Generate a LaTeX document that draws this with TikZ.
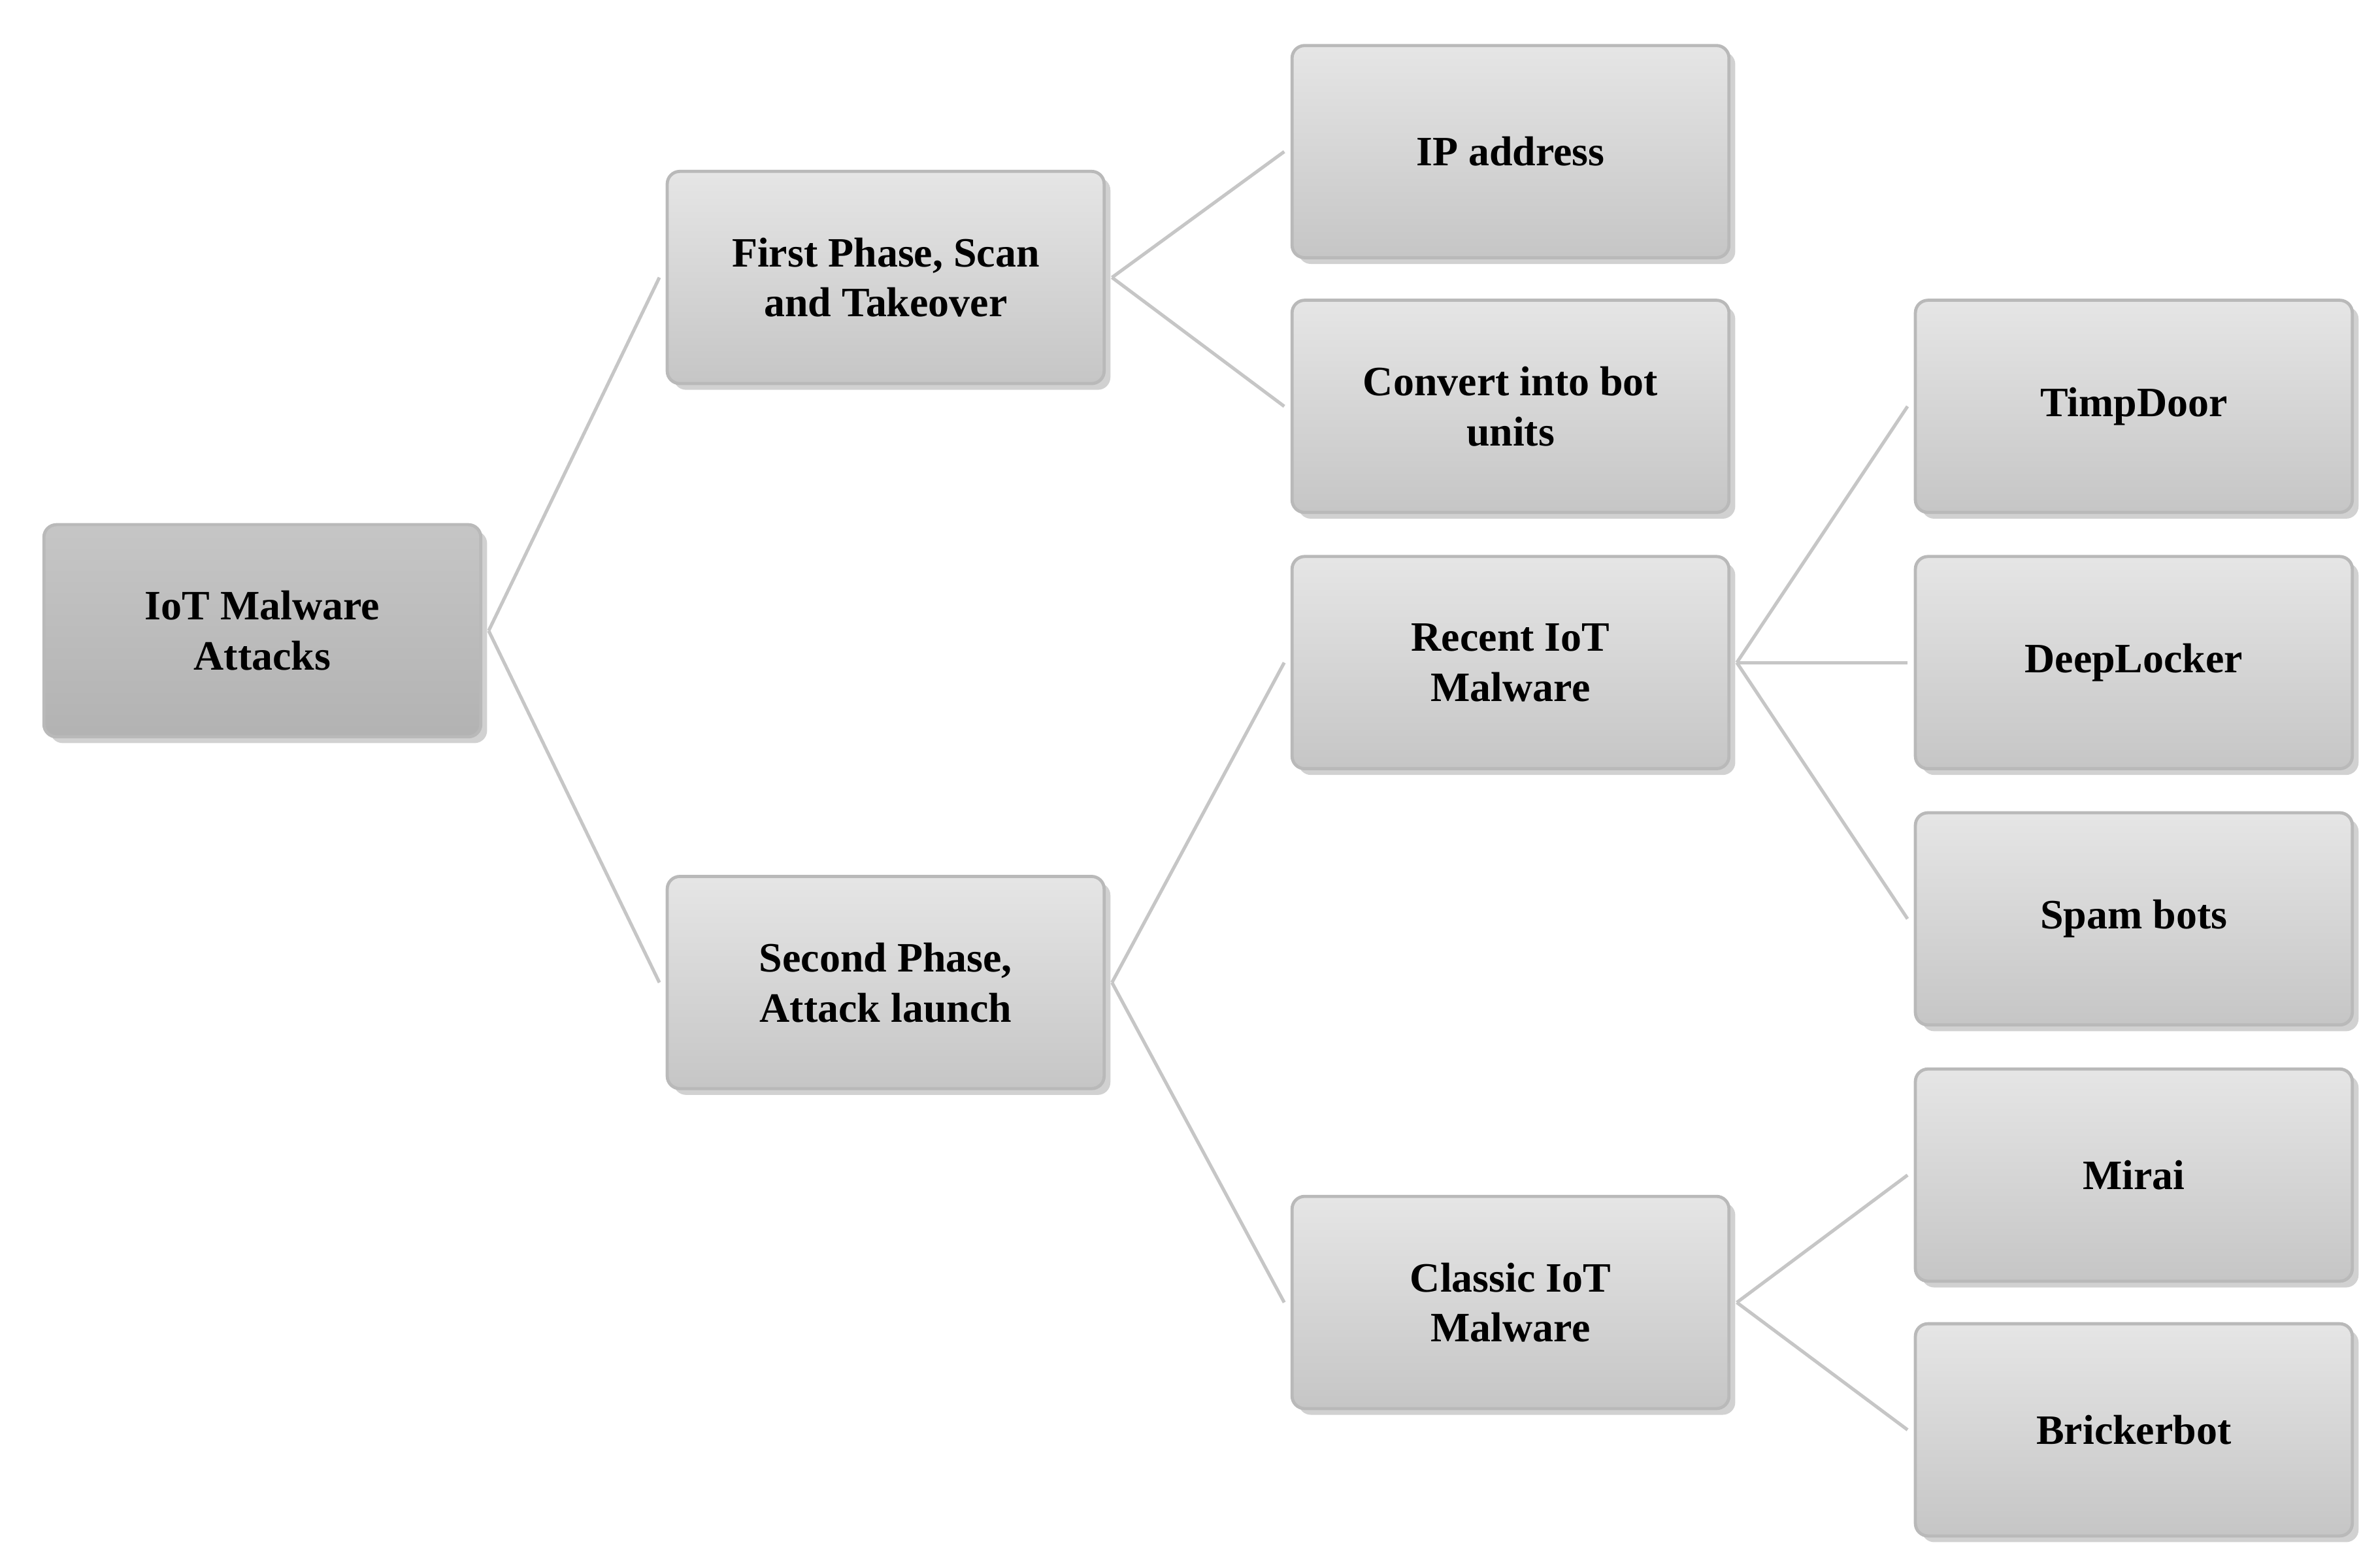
\documentclass[tikz,border=0pt]{standalone}
\usepackage{fontspec}
\setmainfont{Liberation Serif}
\usetikzlibrary{shadows}
\begin{document}
\begin{tikzpicture}[x=0.02551cm,y=-0.02551cm,
 box/.style={draw=gray!55,line width=1.5pt,rounded corners=6pt,minimum width=7.35cm,minimum height=3.57cm,
   top color=gray!20,bottom color=gray!45,align=center,font=\fontsize{20}{24}\selectfont\bfseries,
   drop shadow={shadow xshift=3pt,shadow yshift=-3pt,fill=gray!60,opacity=.6}},
 rootbox/.style={box,top color=gray!45,bottom color=gray!60},
 link/.style={draw=gray!45,line width=1.6pt}]
\useasboundingbox (0,0) rectangle (1568,1034);
\node[rootbox] (root) at (173,416) {IoT Malware\\Attacks};
\node[box] (p1) at (584,183) {First Phase, Scan\\and Takeover};
\node[box] (p2) at (584,648) {Second Phase,\\Attack launch};
\node[box] (ip) at (996,100) {IP address};
\node[box] (cv) at (996,268) {Convert into bot\\units};
\node[box] (re) at (996,437) {Recent IoT\\Malware};
\node[box] (cl) at (996,859) {Classic IoT\\Malware};
\node[box] (tp) at (1407,268) {TimpDoor};
\node[box] (dl) at (1407,437) {DeepLocker};
\node[box] (sb) at (1407,606) {Spam bots};
\node[box] (mi) at (1407,775) {Mirai};
\node[box] (bb) at (1407,943) {Brickerbot};
\foreach \a/\b in {root/p1,root/p2,p1/ip,p1/cv,p2/re,p2/cl,re/tp,re/dl,re/sb,cl/mi,cl/bb}
  \draw[link] ([xshift=3pt]\a.east) -- ([xshift=-3pt]\b.west);
\end{tikzpicture}
\end{document}
